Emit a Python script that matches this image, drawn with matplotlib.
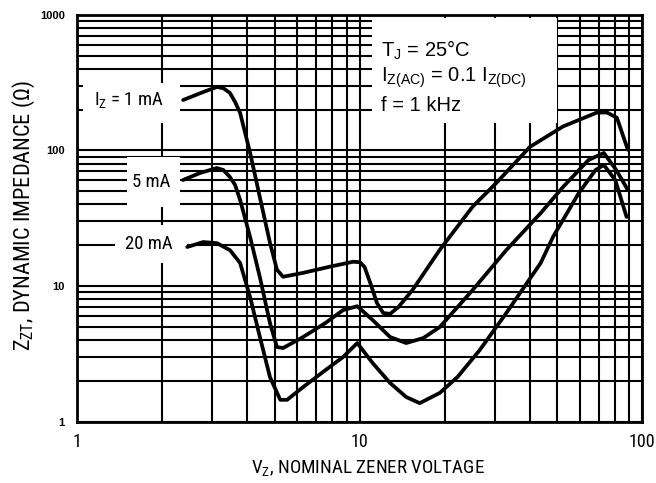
import numpy as np
import matplotlib
matplotlib.use("Agg")
import matplotlib.pyplot as plt
from matplotlib import font_manager
from matplotlib.patches import Rectangle

# curve data (Vz in V, Zzt in ohm)
vz_1ma = [2.37, 2.79, 3.12, 3.29, 3.47, 3.62, 3.77, 4.09, 4.43, 4.81, 5.09, 5.35, 6.30, 7.85,
          9.47, 10.0, 10.4, 10.9, 11.5, 12.1, 12.8, 13.7, 15.4, 19.2, 25.1, 30.5, 40.0, 52.4,
          69.1, 75.0, 81.3, 88.9]
zzt_1ma = [235, 269, 293, 287, 265, 227, 189, 96, 45, 20.8, 13.2, 11.7, 12.5, 13.9,
           15.1, 15.0, 13.8, 10.5, 7.5, 6.33, 6.23, 7.0, 9.4, 18.5, 38.5, 57.8, 106, 150,
           190, 190, 174, 101]

vz_5ma = [2.37, 2.72, 3.12, 3.29, 3.47, 3.62, 3.77, 4.09, 4.43, 4.81, 5.09, 5.35, 6.30, 7.56,
          8.73, 9.8, 11.1, 12.8, 14.6, 16.8, 19.2, 25.1, 33.0, 43.7, 52.4, 64.5, 73.1,
          80.9, 88.9]
zzt_5ma = [60.5, 68.1, 74.1, 71.6, 63.6, 55.6, 43.1, 23.0, 11.6, 5.33, 3.55, 3.49, 4.21, 5.34,
           6.65, 7.1, 5.62, 4.21, 3.80, 4.14, 4.99, 9.35, 18.4, 34.5, 53.7, 84.9, 95.7,
           71.6, 51]

vz_20ma = [2.45, 2.79, 3.12, 3.47, 3.77, 4.09, 4.43, 4.81, 5.23, 5.53, 6.30, 7.56, 8.73, 9.8,
           11.1, 12.8, 14.6, 16.3, 19.2, 22.2, 26.6, 33.0, 43.7, 48.3, 59.6, 68.3, 73.1,
           80.2, 88.0]
zzt_20ma = [19.4, 21.1, 20.7, 18.4, 14.8, 8.3, 4.21, 2.13, 1.45, 1.45, 1.80, 2.40, 3.0, 3.80,
            2.71, 1.93, 1.52, 1.37, 1.63, 2.14, 3.38, 6.32, 14.8, 23.0, 48.5, 71.6, 78,
            60.5, 32.3]

x_ticks = [1, 10, 100]
y_ticks = [1, 10, 100, 1000]

names = {f.name for f in font_manager.fontManager.ttflist}
narrow = "Liberation Sans"
for cand in ["Roboto Condensed", "Archivo Narrow", "Pragati Narrow"]:
    if cand in names:
        narrow = cand
        break
scale = 1.0 if narrow != "Liberation Sans" else 0.82

plt.rcParams["font.family"] = [narrow, "DejaVu Sans"]
plt.rcParams["mathtext.fontset"] = "custom"
plt.rcParams["mathtext.rm"] = narrow
plt.rcParams["mathtext.it"] = narrow

fig = plt.figure(figsize=(6.56, 4.83), dpi=100)
ax = fig.add_axes([0.1178, 0.1269, 0.8613, 0.8427])
ax.set_xscale("log")
ax.set_yscale("log")
ax.set_xlim(1, 100)
ax.set_ylim(1, 1000)

# grid
ax.grid(True, which="both", color="black", lw=1.5)
ax.set_axisbelow(True)
for s in ax.spines.values():
    s.set_linewidth(2.0)

ax.set_xticks(x_ticks)
ax.set_xticklabels(["1", "10", "100"], fontsize=13 * scale)
ax.set_yticks(y_ticks)
ax.set_yticklabels(["1", "10", "100", "1000"], fontsize=8, fontweight="bold",
                   family="Liberation Sans")
ax.tick_params(which="both", length=0)
ax.tick_params(axis="x", pad=8)
ax.tick_params(axis="y", pad=9)

# white areas behind labels
boxes = [(0.010, 0.735, 0.172, 0.097), (0.088, 0.527, 0.094, 0.123),
         (0.067, 0.390, 0.127, 0.093), (0.521, 0.733, 0.328, 0.259)]
for bx, by, bw, bh in boxes:
    ax.add_patch(Rectangle((bx, by), bw, bh, transform=ax.transAxes, fc="white",
                           ec="none", zorder=2.5))

for vz, zz in [(vz_1ma, zzt_1ma), (vz_5ma, zzt_5ma), (vz_20ma, zzt_20ma)]:
    ax.plot(vz, zz, color="black", lw=2.7, solid_capstyle="round",
            solid_joinstyle="round", zorder=3)

fs = 13.5 * scale
ax.text(0.092, 0.790, r"$\mathregular{I_Z}$ = 1 mA", transform=ax.transAxes,
        ha="center", va="center", fontsize=fs, zorder=4)
ax.text(0.130, 0.589, "5 mA", transform=ax.transAxes, ha="center", va="center",
        fontsize=fs, zorder=4)
ax.text(0.127, 0.437, "20 mA", transform=ax.transAxes, ha="center", va="center",
        fontsize=fs, zorder=4)

# conditions block is set in a regular-width face
cond = dict(transform=ax.transAxes, ha="left", va="center", fontsize=14.5, zorder=4,
            family="Liberation Sans")
with plt.rc_context({"mathtext.rm": "Liberation Sans", "mathtext.it": "Liberation Sans"}):
    ax.text(0.538, 0.913, r"$\mathregular{T_J}$ = 25°C", **cond)
    ax.text(0.538, 0.845, r"$\mathregular{I_{Z(AC)}}$ = 0.1 $\mathregular{I_{Z(DC)}}$", **cond)
    ax.text(0.538, 0.778, "f = 1 kHz", **cond)

ax.set_xlabel(r"$\mathregular{V_Z}$, NOMINAL ZENER VOLTAGE", fontsize=13.7 * scale)
ax.xaxis.label.set_va("center")
ax.xaxis.set_label_coords(0.514, -0.114)
ax.set_ylabel(r"$\mathregular{Z_{ZT}}$, DYNAMIC IMPEDANCE (Ω)", fontsize=16 * scale)
ax.yaxis.label.set_va("center")
ax.yaxis.set_label_coords(-0.094, 0.505)

fig.savefig("out.png", dpi=100)
